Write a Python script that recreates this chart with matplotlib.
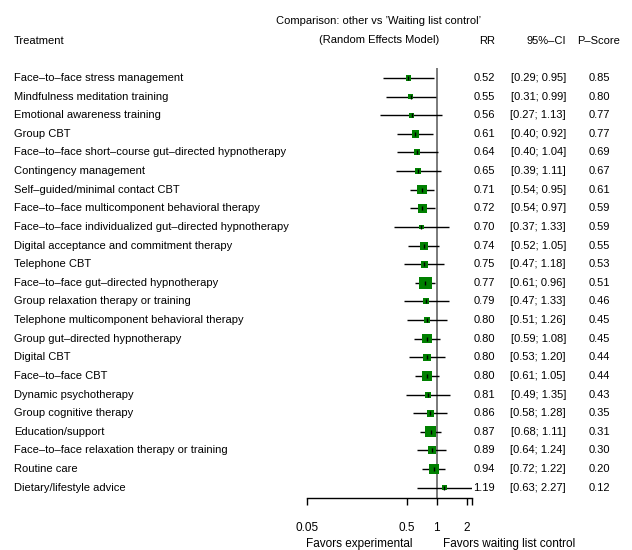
import numpy as np
import matplotlib as mpl
import matplotlib.pyplot as plt
from matplotlib.transforms import blended_transform_factory

# 没有窄体字，用 Liberation Sans 小一号
plt.rcParams['font.family'] = ['Liberation Sans', 'DejaVu Sans']
plt.rcParams['font.size'] = 8

treatments = [
    'Face–to–face stress management',
    'Mindfulness meditation training',
    'Emotional awareness training',
    'Group CBT',
    'Face–to–face short–course gut–directed hypnotherapy',
    'Contingency management',
    'Self–guided/minimal contact CBT',
    'Face–to–face multicomponent behavioral therapy',
    'Face–to–face individualized gut–directed hypnotherapy',
    'Digital acceptance and commitment therapy',
    'Telephone CBT',
    'Face–to–face gut–directed hypnotherapy',
    'Group relaxation therapy or training',
    'Telephone multicomponent behavioral therapy',
    'Group gut–directed hypnotherapy',
    'Digital CBT',
    'Face–to–face CBT',
    'Dynamic psychotherapy',
    'Group cognitive therapy',
    'Education/support',
    'Face–to–face relaxation therapy or training',
    'Routine care',
    'Dietary/lifestyle advice',
]
rr = [0.52, 0.55, 0.56, 0.61, 0.64, 0.65, 0.71, 0.72, 0.70, 0.74, 0.75, 0.77,
      0.79, 0.80, 0.80, 0.80, 0.80, 0.81, 0.86, 0.87, 0.89, 0.94, 1.19]
lower = [0.29, 0.31, 0.27, 0.40, 0.40, 0.39, 0.54, 0.54, 0.37, 0.52, 0.47, 0.61,
         0.47, 0.51, 0.59, 0.53, 0.61, 0.49, 0.58, 0.68, 0.64, 0.72, 0.63]
upper = [0.95, 0.99, 1.13, 0.92, 1.04, 1.11, 0.95, 0.97, 1.33, 1.05, 1.18, 0.96,
         1.33, 1.26, 1.08, 1.20, 1.05, 1.35, 1.28, 1.11, 1.24, 1.22, 2.27]
pscore = [0.85, 0.80, 0.77, 0.77, 0.69, 0.67, 0.61, 0.59, 0.59, 0.55, 0.53, 0.51,
          0.46, 0.45, 0.45, 0.44, 0.44, 0.43, 0.35, 0.31, 0.30, 0.20, 0.12]
# 方块相对大小（权重）
weights = [5.3, 5.3, 4.7, 7.3, 6.0, 6.0, 9.3, 9.3, 4.7, 8.0, 6.7, 12.7,
           6.0, 6.7, 9.3, 7.3, 10.0, 6.0, 7.3, 11.3, 8.0, 10.0, 5.3]
xticks = [0.05, 0.5, 1, 2]

W, H = 632, 550
fig = plt.figure(figsize=(W / 100, H / 100), dpi=100)

def fx(px):
    return px / W

def fy(py):
    return 1 - py / H

ax = fig.add_axes([fx(306.7), fy(498), fx(472.3) - fx(306.7), fy(68) - fy(498)])
ax.set_xscale('log')
xmin, xmax = 0.05, max(upper)
ax.set_xlim(xmin, xmax)
rows = np.arange(1, len(treatments) + 1)
ax.set_ylim(23.553, 0.463)

ax.axvline(1, color='#7a7a7a', lw=1.4, zorder=1)
ax.hlines(rows, lower, upper, color='black', lw=1.0, zorder=2)
sizes = (np.array(weights) * 0.72) ** 2
ax.scatter(rr, rows, s=sizes, marker='s', color='#008000', linewidths=0, zorder=3)
ax.plot(rr, rows, ls='none', marker='|', ms=3.5, mew=1.0, color='black', zorder=4)

for s in ['top', 'right', 'left']:
    ax.spines[s].set_visible(False)
ax.spines['bottom'].set_linewidth(1.0)
ax.set_yticks([])
ax.set_xticks(xticks + [xmax])
ax.set_xticklabels([str(t) for t in xticks] + [''])
ax.xaxis.set_minor_locator(mpl.ticker.NullLocator())
ax.tick_params(axis='x', length=5, width=1.0, pad=12, labelsize=8.5)

# 表格文字
tr = blended_transform_factory(fig.transFigure, ax.transData)
x_rr, x_ci, x_p = 495, 566, 599
for i, r in enumerate(rows):
    fig.text(fx(14), r, treatments[i], transform=tr, ha='left', va='center')
    fig.text(fx(x_rr), r, '%.2f' % rr[i], transform=tr, ha='right', va='center')
    fig.text(fx(x_ci), r, '[%.2f; %.2f]' % (lower[i], upper[i]), transform=tr,
             ha='right', va='center')
    fig.text(fx(x_p), r, '%.2f' % pscore[i], transform=tr, ha='center', va='center')

fig.text(fx(14), fy(41), 'Treatment', ha='left', va='center')
fig.text(fx(379), fy(21), 'Comparison: other vs ’Waiting list control’', ha='center', va='center')
fig.text(fx(379), fy(40), '(Random Effects Model)', ha='center', va='center')
fig.text(fx(x_rr), fy(41), 'RR', ha='right', va='center')
fig.text(fx(x_ci), fy(41), '95%–CI', ha='right', va='center')
fig.text(fx(x_p), fy(41), 'P–Score', ha='center', va='center')

fig.text(fx(413), fy(544), 'Favors experimental', ha='right', va='center', fontsize=8.5)
fig.text(fx(443), fy(544), 'Favors waiting list control', ha='left', va='center', fontsize=8.5)

fig.savefig('out.png', dpi=100)
